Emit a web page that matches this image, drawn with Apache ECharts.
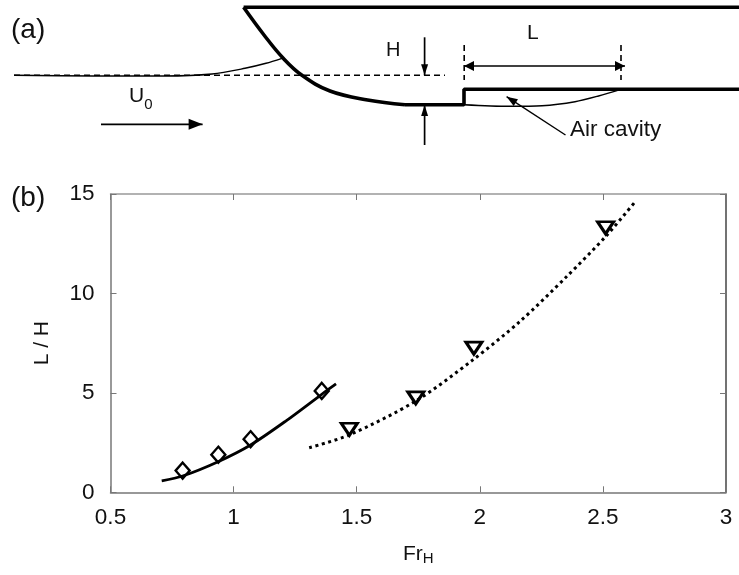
<!DOCTYPE html>
<html><head><meta charset="utf-8">
<style>html,body{margin:0;padding:0;background:#fff}#c{width:739px;height:575px}</style>
<script src="https://cdn.jsdelivr.net/npm/echarts@6/dist/echarts.min.js"></script>
</head><body><div id="c"></div>
<script>
// Panel (b) data
const diamondPoints = [[0.793,1.09],[0.938,1.89],[1.069,2.67],[1.358,5.1]];
const trianglePoints = [[1.47,3.17],[1.74,4.75],[1.976,7.25],[2.511,13.3]];
const solidFit = [[0.708,0.58],[0.793,0.82],[0.937,1.54],[1.069,2.38],[1.216,3.62],[1.358,4.93],[1.416,5.45]];
const dottedFit = [[1.307,2.24],[1.469,2.88],[1.74,4.59],[1.972,6.66],[2.163,8.59],[2.353,10.85],[2.511,12.86],[2.627,14.55]];
const xTicks = [0.5,1,1.5,2,2.5,3];
const yTicks = [0,5,10,15];

// Panel (a) schematic, in picture units
const hullTop = [[243.6,7.3],[739,7.3]];
const hullCurve = [[243.6,7.3],[264,35],[283,58],[301.6,75],[330,91],[367.6,100],[405,104.7]];
const hullStep = [[405,104.7],[464,104.7],[464,89.3],[739,89.3]];
const waterLine = [[14,75.3],[94,76],[165,76],[212,74],[245,68.3],[266,63.3],[282,58.3]];
const datumLine = [[14,75.3],[445,75.3]];
const cavityCurve = [[464,104.7],[509,106.3],[542,105.7],[575,101.7],[598.5,96],[621,89.3]];
const markLeft = [[464.2,45],[464.2,80]];
const markRight = [[621,45],[621,80]];
const arrowL = [[464,66],[625,66]];
const arrowHDown = [[424.6,37.3],[424.6,75.3]];
const arrowHUp = [[424.6,145],[424.6,105]];
const arrowU = [[101,124.3],[202.6,124.3]];
const arrowCavity = [[565.5,135],[506.6,96.7]];
const textItems = [
  {at:[11,30], text:'(a)', size:28},
  {at:[11,198], text:'(b)', size:28},
  {at:[386,50], text:'H', size:20},
  {at:[527,33], text:'L', size:21},
  {at:[570,130], text:'Air cavity', size:22.5}
];
const subscriptLabel = {at:[129,96], main:'U', sub:'0'};

const INK = '#000';
const AX = '#777';
const LBL = '#111';
const F = '"Liberation Sans", Arial, sans-serif';

function stroke(data, width, extra) {
  return Object.assign({
    type:'line', xAxisIndex:2, yAxisIndex:2, data, symbol:'none', silent:true,
    lineStyle:{color:INK,width:width}, z:3
  }, extra||{});
}
function arrow(seg, width, headLen, headW, both) {
  const out = [stroke(seg, width)];
  const head = (a,b) => {
    const dx = b[0]-a[0], dy = b[1]-a[1];
    const len = Math.hypot(dx,dy);
    const ang = Math.atan2(dx, dy) * 180/Math.PI;
    const centre = [b[0]-dx/len*headLen/2, b[1]-dy/len*headLen/2];
    return {
      type:'scatter', xAxisIndex:2, yAxisIndex:2, silent:true, z:4,
      symbol:'triangle', symbolSize:[headW,headLen], symbolRotate: 180 + ang,
      itemStyle:{color:INK,opacity:1}, data:[centre]
    };
  };
  out.push(head(seg[0],seg[1]));
  if (both) out.push(head(seg[1],seg[0]));
  return out;
}

const textSeries = textItems.map(t => ({
  type:'scatter', xAxisIndex:2, yAxisIndex:2, silent:true, symbolSize:0, z:5,
  itemStyle:{opacity:1},
  data:[t.at],
  label:{show:true, position:'right', distance:0, formatter:t.text, fontFamily:F, fontSize:t.size, color:LBL, opacity:1}
}));
const uSeries = {
  type:'scatter', xAxisIndex:2, yAxisIndex:2, silent:true, symbolSize:0, z:5,
  itemStyle:{opacity:1},
  data:[subscriptLabel.at],
  label:{show:true, position:'right', distance:0, opacity:1,
    formatter:'{m|'+subscriptLabel.main+'}{s|'+subscriptLabel.sub+'}',
    rich:{m:{fontFamily:F,fontSize:21,color:LBL},
          s:{fontFamily:F,fontSize:15,color:LBL,padding:[18,0,0,0]}}}
};

const chart = echarts.init(document.getElementById('c'), null, {renderer:'canvas'});
chart.setOption({
  animation:false,
  backgroundColor:'#fff',
  grid:[
    {left:110.5, right:13, top:194, bottom:82.7, show:false},
    {left:0, right:0, top:0, bottom:0, show:false}
  ],
  xAxis:[
    {type:'value', gridIndex:0, min:0.5, max:3, interval:0.5, position:'bottom',
     axisLine:{show:true,onZero:false,lineStyle:{color:AX,width:1.5}},
     axisTick:{show:true,inside:true,length:6,lineStyle:{color:AX}},
     splitLine:{show:false},
     axisLabel:{fontFamily:F,fontSize:22.5,color:LBL,margin:14,
       formatter:v=>String(v), customValues:xTicks},
     name:'{m|Fr}{s|H}', nameLocation:'middle', nameGap:49,
     nameTextStyle:{rich:{m:{fontFamily:F,fontSize:21,color:LBL},
       s:{fontFamily:F,fontSize:15,color:LBL,padding:[10,0,0,0]}}}},
    {type:'value', gridIndex:0, min:0.5, max:3, interval:0.5, position:'top',
     axisLine:{show:true,onZero:false,lineStyle:{color:'#999',width:1.5}},
     axisTick:{show:true,inside:true,length:6,lineStyle:{color:AX}},
     axisLabel:{show:false}, splitLine:{show:false}},
    {type:'value', gridIndex:1, min:0, max:739, show:false}
  ],
  yAxis:[
    {type:'value', gridIndex:0, min:0, max:15, interval:5, position:'left',
     axisLine:{show:true,onZero:false,lineStyle:{color:AX,width:1.5}},
     axisTick:{show:true,inside:true,length:6,lineStyle:{color:AX}},
     splitLine:{show:false},
     axisLabel:{fontFamily:F,fontSize:22.5,color:LBL,margin:16, customValues:yTicks},
     name:'L / H', nameLocation:'middle', nameGap:58,
     nameTextStyle:{fontFamily:F,fontSize:21,color:LBL}},
    {type:'value', gridIndex:0, min:0, max:15, interval:5, position:'right',
     axisLine:{show:true,onZero:false,lineStyle:{color:'#444',width:1.5}},
     axisTick:{show:true,inside:true,length:6,lineStyle:{color:AX}},
     axisLabel:{show:false}, splitLine:{show:false}},
    {type:'value', gridIndex:1, min:0, max:575, inverse:true, show:false}
  ],
  series:[
    {type:'line', xAxisIndex:0, yAxisIndex:0, data:solidFit, smooth:0.3, symbol:'none',
     lineStyle:{color:INK,width:2.8}, z:2},
    {type:'line', xAxisIndex:0, yAxisIndex:0, data:dottedFit, smooth:0.3, symbol:'none',
     lineStyle:{color:INK,width:3,type:[3,3.6]}, z:2},
    {type:'scatter', xAxisIndex:0, yAxisIndex:0, data:diamondPoints, symbol:'diamond', symbolSize:[14,16],
     itemStyle:{color:'rgba(255,255,255,0)',borderColor:INK,borderWidth:2.4,opacity:1}, z:3},
    {type:'scatter', xAxisIndex:0, yAxisIndex:0, data:trianglePoints, symbol:'triangle', symbolRotate:180, symbolSize:[16,12],
     itemStyle:{color:'rgba(255,255,255,0)',borderColor:INK,borderWidth:3,opacity:1}, z:3},
    stroke(hullTop,3.6),
    stroke(hullCurve,3.6,{smooth:0.4}),
    stroke(hullStep,3.6),
    stroke(waterLine,1.4,{smooth:0.3}),
    stroke(datumLine,1.6,{lineStyle:{color:INK,width:1.6,type:[6,4]}}),
    stroke(cavityCurve,1.4,{smooth:0.3}),
    stroke(markLeft,1.6,{lineStyle:{color:INK,width:1.6,type:[6,4]}}),
    stroke(markRight,1.6,{lineStyle:{color:INK,width:1.6,type:[6,4]}}),
    ...arrow(arrowL,1.7,10,10,true),
    ...arrow(arrowHDown,1.7,11,7),
    ...arrow(arrowHUp,1.7,11,7),
    ...arrow(arrowU,1.7,14,11),
    ...arrow(arrowCavity,1.4,11,8),
    ...textSeries,
    uSeries
  ]
});
</script></body></html>
